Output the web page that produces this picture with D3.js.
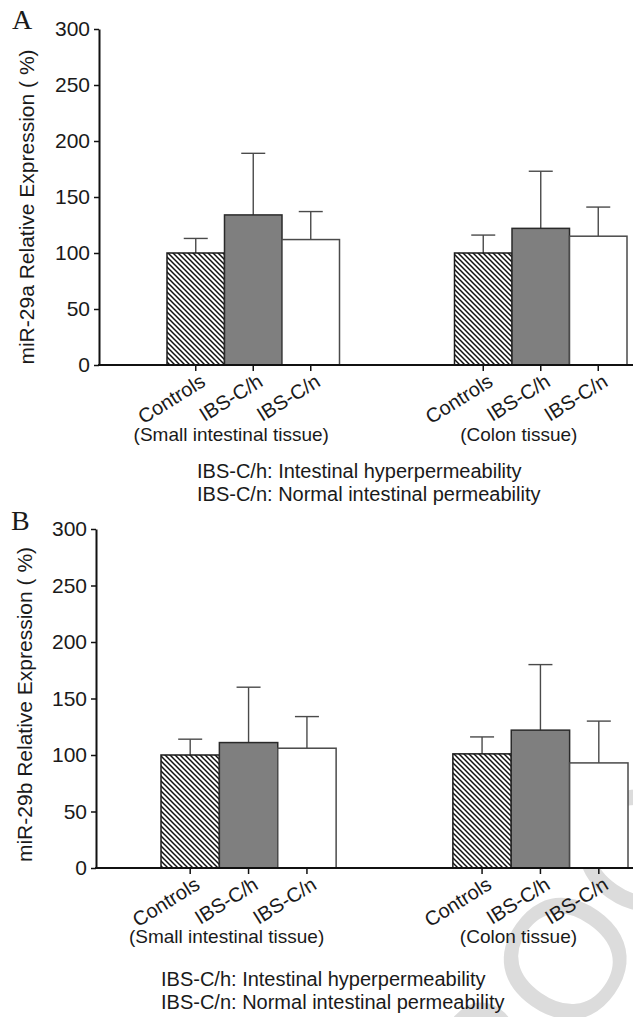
<!DOCTYPE html>
<html>
<head>
<meta charset="utf-8">
<script src="https://cdn.jsdelivr.net/npm/d3@7"></script>
<style>
  body { margin: 0; background: #fff; }
  text { font-family: "Liberation Sans", Arial, sans-serif; fill: #1a1a1a; }
</style>
</head>
<body>
<script>
// values (mean %, upward error bar)
var categories = ["Controls", "IBS-C/h", "IBS-C/n"];
var tissues = ["(Small intestinal tissue)", "(Colon tissue)"];
var yTicks = [0, 50, 100, 150, 200, 250, 300];
var legendLines = ["IBS-C/h: Intestinal hyperpermeability", "IBS-C/n: Normal intestinal permeability"];

// miR-29a
var mir29aSmallMean = [100, 134, 112];
var mir29aSmallErr = [13, 55, 25];
var mir29aColonMean = [100, 122, 115];
var mir29aColonErr = [16, 51, 26];

// miR-29b
var mir29bSmallMean = [100, 111, 106];
var mir29bSmallErr = [14, 49, 28];
var mir29bColonMean = [101, 122, 93];
var mir29bColonErr = [15, 58, 37];

var W = 633, H = 1017;

var svg = d3.select("body")
  .append("svg")
  .attr("width", W)
  .attr("height", H)
  .style("display", "block");

svg.append("rect").attr("width", W).attr("height", H).attr("fill", "#fff");

// hatch for the control bars
svg.append("defs")
  .append("pattern")
  .attr("id", "hatch")
  .attr("patternUnits", "userSpaceOnUse")
  .attr("width", 5)
  .attr("height", 5)
  .append("path")
  .attr("d", "M-1,-1 L6,6 M-1,4 L1,6 M4,-1 L6,1")
  .attr("stroke", "#111")
  .attr("stroke-width", 1.5);

// watermark (behind everything), runs off the page like in the original
svg.append("text")
  .attr("transform", "translate(440,1240) rotate(-55)")
  .style("font-size", "170px")
  .style("fill", "#dcdcdc")
  .text("PROOF");

var fills = ["url(#hatch)", "#7f7f7f", "#ffffff"];
var strokes = ["#1a1a1a", "#2a2a2a", "#4a4a4a"];

function drawPanel(p, groups) {
  var g = svg.append("g");

  var y = d3.scaleLinear().domain([0, 300]).range([p.yBottom, p.yTop]);

  var xGroup = d3.scaleBand()
    .domain(tissues)
    .range(p.groupRange)
    .paddingInner(0.4)
    .paddingOuter(0);

  var xCat = d3.scaleBand()
    .domain(categories)
    .range([0, xGroup.bandwidth()])
    .padding(0);

  // panel letter
  g.append("text")
    .attr("x", p.letterX)
    .attr("y", p.letterY)
    .style("font-family", "'Liberation Serif', 'Times New Roman', serif")
    .style("font-size", "28px")
    .text(p.letter);

  // y axis
  var yAxis = g.append("g")
    .attr("transform", "translate(" + p.axisX + ",0)")
    .call(d3.axisLeft(y).tickValues(yTicks).tickSize(5).tickSizeOuter(0).tickPadding(4));
  yAxis.select(".domain").attr("stroke", "#111").attr("stroke-width", 2);
  yAxis.selectAll(".tick line").attr("stroke", "#111").attr("stroke-width", 1.5);
  yAxis.selectAll(".tick text")
    .style("font-family", "'Liberation Sans', Arial, sans-serif")
    .style("font-size", "21px")
    .attr("fill", "#1a1a1a");

  g.append("text")
    .attr("transform", "translate(" + p.labelX + "," + ((p.yTop + p.yBottom) / 2 + p.labelShift) + ") rotate(-90)")
    .attr("text-anchor", "middle")
    .attr("dy", "0.35em")
    .style("font-size", "21px")
    .text(p.yLabel);

  groups.forEach(function(grp, gi) {
    var gx = xGroup(tissues[gi]);
    var rows = categories.map(function(c, i) {
      return { cat: c, i: i, mean: grp.mean[i], err: grp.err[i] };
    });

    // error bars (upward only)
    var eb = g.append("g").selectAll("g")
      .data(rows)
      .enter()
      .append("g")
      .attr("stroke", "#4a4a4a")
      .attr("stroke-width", 1.4);
    eb.append("line")
      .attr("x1", function(d) { return gx + xCat(d.cat) + xCat.bandwidth() / 2; })
      .attr("x2", function(d) { return gx + xCat(d.cat) + xCat.bandwidth() / 2; })
      .attr("y1", function(d) { return y(d.mean); })
      .attr("y2", function(d) { return y(d.mean + d.err); });
    eb.append("line")
      .attr("x1", function(d) { return gx + xCat(d.cat) + xCat.bandwidth() / 2 - 12; })
      .attr("x2", function(d) { return gx + xCat(d.cat) + xCat.bandwidth() / 2 + 12; })
      .attr("y1", function(d) { return y(d.mean + d.err); })
      .attr("y2", function(d) { return y(d.mean + d.err); });

    g.append("g").selectAll("rect")
      .data(rows)
      .enter()
      .append("rect")
      .attr("x", function(d) { return gx + xCat(d.cat); })
      .attr("y", function(d) { return y(d.mean); })
      .attr("width", xCat.bandwidth())
      .attr("height", function(d) { return y(0) - y(d.mean); })
      .attr("fill", function(d) { return fills[d.i]; })
      .attr("stroke", function(d) { return strokes[d.i]; })
      .attr("stroke-width", 1.5);

    // x ticks + rotated category labels
    rows.forEach(function(d) {
      var cx = gx + xCat(d.cat) + xCat.bandwidth() / 2;
      g.append("line")
        .attr("x1", cx).attr("x2", cx)
        .attr("y1", p.yBottom).attr("y2", p.yBottom + 6)
        .attr("stroke", "#111")
        .attr("stroke-width", 1.5);
      g.append("text")
        .attr("transform", "translate(" + (cx + 11) + "," + (p.yBottom + 20) + ") rotate(-32)")
        .attr("text-anchor", "end")
        .style("font-size", "20px")
        .text(d.cat);
    });

    g.append("text")
      .attr("x", gx + xGroup.bandwidth() / 2 - 22)
      .attr("y", p.groupLabelY)
      .attr("text-anchor", "middle")
      .style("font-size", "19px")
      .text(tissues[gi]);
  });

  // x axis baseline
  g.append("line")
    .attr("x1", p.axisX - 1).attr("x2", W)
    .attr("y1", p.yBottom).attr("y2", p.yBottom)
    .attr("stroke", "#111")
    .attr("stroke-width", 2);

  g.selectAll(".legend")
    .data(legendLines)
    .enter()
    .append("text")
    .attr("x", p.legendX)
    .attr("y", function(d, i) { return p.legendY[i]; })
    .style("font-size", "20px")
    .text(function(d) { return d; });
}

drawPanel({
  letter: "A", letterX: 12, letterY: 29,
  axisX: 99, yTop: 29, yBottom: 365,
  groupRange: [167, 627],
  yLabel: "miR-29a Relative Expression ( %)", labelX: 27, labelShift: 10,
  groupLabelY: 441,
  legendX: 197, legendY: [478, 501]
}, [
  { mean: mir29aSmallMean, err: mir29aSmallErr },
  { mean: mir29aColonMean, err: mir29aColonErr }
]);

drawPanel({
  letter: "B", letterX: 11, letterY: 530,
  axisX: 96, yTop: 529, yBottom: 868,
  groupRange: [161, 628],
  yLabel: "miR-29b Relative Expression ( %)", labelX: 25, labelShift: 6,
  groupLabelY: 943,
  legendX: 161, legendY: [986, 1009]
}, [
  { mean: mir29bSmallMean, err: mir29bSmallErr },
  { mean: mir29bColonMean, err: mir29bColonErr }
]);
</script>
</body>
</html>
